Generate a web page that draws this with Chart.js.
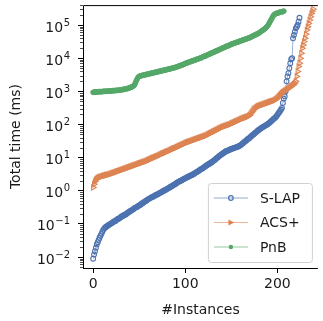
<!DOCTYPE html>
<html>
<head>
<meta charset="utf-8">
<script src="https://cdn.jsdelivr.net/npm/chart.js@4.4.0/dist/chart.umd.min.js"></script>
<style>
html, body { margin: 0; padding: 0; background: #fff; }
canvas { display: block; }
</style>
</head>
<body>
<canvas id="myChart" width="323" height="321"></canvas>
<script>
"use strict";
// sorted run times (ms) per instance
var slap = [
    0.0089, 0.012, 0.015, 0.019, 0.024, 0.028, 0.033, 0.038, 0.044, 0.05,
    0.058, 0.066, 0.072, 0.078, 0.081, 0.085, 0.089, 0.093, 0.098, 0.10,
    0.105, 0.11, 0.115, 0.12, 0.12, 0.13, 0.135, 0.14, 0.145, 0.15,
    0.16, 0.17, 0.17, 0.18, 0.19, 0.19, 0.20, 0.21, 0.22, 0.23,
    0.24, 0.25, 0.26, 0.27, 0.28, 0.30, 0.31, 0.32, 0.33, 0.35,
    0.36, 0.37, 0.39, 0.41, 0.43, 0.45, 0.47, 0.49, 0.51, 0.54,
    0.56, 0.58, 0.60, 0.62, 0.65, 0.66, 0.69, 0.71, 0.74, 0.76,
    0.79, 0.81, 0.85, 0.87, 0.91, 0.93, 0.98, 1.0, 1.05, 1.07,
    1.12, 1.17, 1.2, 1.26, 1.32, 1.35, 1.41, 1.48, 1.51, 1.58,
    1.66, 1.74, 1.82, 1.86, 1.95, 2.0, 2.04, 2.14, 2.24, 2.29,
    2.4, 2.45, 2.57, 2.63, 2.69, 2.82, 2.88, 2.95, 3.09, 3.16,
    3.31, 3.47, 3.63, 3.72, 3.89, 4.07, 4.27, 4.47, 4.57, 4.79,
    5.01, 5.25, 5.5, 5.75, 6.03, 6.31, 6.46, 6.76, 7.08, 7.24,
    7.76, 8.13, 8.51, 9.12, 9.55, 10, 10.7, 11.2, 11.7, 12.3,
    12.9, 13.5, 14.1, 14.8, 15.5, 15.8, 16.2, 16.6, 17, 17.8,
    18.2, 18.6, 19.1, 19.5, 20, 20.4, 20.9, 21.4, 21.9, 22.9,
    23.4, 25.1, 26.3, 27.5, 29.5, 30.9, 32.4, 34.7, 36.3, 38,
    39.8, 42.7, 44.7, 47.9, 50.1, 52.5, 56.2, 58.9, 63.1, 66.1,
    69.2, 72.4, 75.9, 79.4, 83.2, 85.1, 89.1, 93.3, 95.5, 100,
    105, 110, 117, 123, 132, 138, 148, 155, 166, 178,
    195, 214, 234, 257, 282, 316, 447, 603, 708, 1000,
    2000, 2820, 3550, 5010, 7080, 9330, 10000, 39800, 50100, 63100,
    79400, 89100, 100000, 126000, 166000
];
var acs = [
    1.26, 1.58, 1.9, 2.14, 2.29, 2.4, 2.51, 2.57, 2.63, 2.69,
    2.75, 2.82, 2.88, 2.88, 2.95, 3.02, 3.09, 3.09, 3.16, 3.24,
    3.31, 3.39, 3.47, 3.55, 3.63, 3.72, 3.8, 3.89, 3.98, 4.07,
    4.17, 4.27, 4.37, 4.47, 4.57, 4.68, 4.79, 4.9, 5.01, 5.13,
    5.25, 5.37, 5.5, 5.62, 5.75, 5.89, 6.03, 6.17, 6.31, 6.46,
    6.61, 6.76, 6.92, 7.08, 7.24, 7.41, 7.59, 7.76, 7.94, 8.13,
    8.51, 8.7, 8.9, 9.3, 9.5, 9.8, 10, 10.2, 10.7, 11,
    11.2, 11.5, 12, 12.3, 12.6, 13.2, 13.5, 13.8, 14.1, 14.8,
    15.1, 15.5, 15.8, 16.6, 17, 17.4, 18.2, 18.6, 19.1, 19.5,
    20, 20.9, 21.4, 21.9, 22.9, 23.4, 24, 25.1, 25.7, 26.3,
    27.5, 28.2, 28.8, 29.5, 30.2, 30.9, 31.6, 32.4, 33.1, 33.9,
    34.7, 35.5, 36.3, 37.2, 38, 38.9, 39.8, 40.7, 41.7, 42.7,
    43.7, 44.7, 45.7, 46.8, 49, 50.1, 52.5, 53.7, 56.2, 57.5,
    60.3, 61.7, 63.1, 66.1, 67.6, 70.8, 72.4, 75.9, 77.6, 79.4,
    83.2, 85.1, 87.1, 89.1, 91.2, 93.3, 95.5, 97.7, 100, 102,
    107, 110, 112, 115, 120, 123, 126, 129, 135, 138,
    141, 148, 151, 155, 158, 162, 166, 170, 174, 182,
    191, 209, 229, 251, 275, 295, 309, 324, 339, 355,
    363, 372, 380, 389, 398, 407, 417, 427, 437, 447,
    457, 468, 479, 490, 501, 513, 525, 537, 562, 589,
    631, 676, 724, 776, 832, 891, 933, 977, 1020, 1070,
    1120, 1170, 1230, 1290, 1350, 1410, 1480, 1550, 1660, 1780,
    2000, 2820, 3980, 5620, 7080, 10000, 14100, 20000, 25100, 31600,
    39800, 52500, 70800, 89100, 112000, 141000, 178000, 224000, 263000, 302000
];
var pnb = [
    933, 933, 955, 955, 955, 955, 977, 977, 977, 977,
    977, 1000, 1000, 1000, 1000, 1000, 1020, 1020, 1020, 1020,
    1020, 1050, 1050, 1050, 1050, 1070, 1070, 1070, 1070, 1100,
    1100, 1120, 1120, 1150, 1150, 1170, 1200, 1200, 1230, 1260,
    1290, 1320, 1350, 1410, 1480, 1580, 1820, 2140, 2400, 2690,
    2820, 2880, 2950, 3020, 3020, 3090, 3160, 3160, 3240, 3310,
    3310, 3390, 3470, 3470, 3550, 3630, 3630, 3720, 3800, 3800,
    3890, 3980, 3980, 4070, 4170, 4170, 4270, 4370, 4370, 4470,
    4570, 4570, 4680, 4790, 4790, 4900, 5010, 5130, 5130, 5250,
    5370, 5500, 5620, 5750, 5890, 6030, 6170, 6310, 6460, 6610,
    6920, 7080, 7240, 7410, 7590, 7760, 7940, 8130, 8320, 8510,
    8710, 8910, 9120, 9330, 9550, 9770, 10000, 10200, 10500, 11000,
    11200, 11500, 11700, 12000, 12600, 12900, 13200, 13500, 14100, 14500,
    14800, 15100, 15800, 16200, 16600, 17000, 17800, 18200, 18600, 19100,
    20000, 20400, 20900, 21400, 22400, 22900, 23400, 24000, 24500, 25700,
    26300, 26900, 27500, 28200, 28800, 29500, 30200, 30900, 31600, 32400,
    33100, 33900, 34700, 35500, 36300, 37200, 38000, 38900, 39800, 40700,
    41700, 42700, 44700, 45700, 47900, 49000, 50100, 52500, 53700, 55000,
    57500, 60300, 63100, 66100, 69200, 72400, 75900, 79400, 85100, 91200,
    100000, 112000, 126000, 141000, 158000, 178000, 200000, 209000, 219000, 224000,
    229000, 234000, 240000, 245000, 251000, 251000, 257000, 263000
];
var seriesNames = ["S-LAP", "ACS+", "PnB"];
var xTicks = [0, 100, 200];
var yExponents = [-2, -1, 0, 1, 2, 3, 4, 5];

var blue = "#4c72b0", orange = "#dd8452", green = "#55a868";
var font = { family: "DejaVu Sans", size: 14 };

function points(arr) {
    return arr.map(function (v, i) { return { x: i, y: v }; });
}

// frame, y tick labels with superscripts, minor log ticks, legend box inside the axes
var extras = {
    id: "extras",
    afterDraw: function (chart) {
        var c = chart.ctx, a = chart.chartArea, y = chart.scales.y;
        c.save();
        c.strokeStyle = "#000";
        c.lineWidth = 1;
        c.beginPath();
        c.moveTo(a.left + 0.5, a.bottom + 0.5);
        c.lineTo(a.left + 0.5, a.top + 0.5);
        c.lineTo(a.right, a.top + 0.5);
        c.moveTo(a.left, a.bottom + 0.5);
        c.lineTo(a.right, a.bottom + 0.5);
        c.stroke();
        c.lineWidth = 0.7;
        c.beginPath();
        for (var e = -3; e <= 5; e++) {
            for (var m = 2; m <= 9; m++) {
                var v = m * Math.pow(10, e);
                if (v < y.min || v > y.max) continue;
                var py = Math.round(y.getPixelForValue(v)) + 0.5;
                c.moveTo(a.left, py);
                c.lineTo(a.left - 3, py);
            }
        }
        c.stroke();

        // y labels: 10 with a raised exponent, right aligned
        c.fillStyle = "#1a1a1a";
        c.textAlign = "right";
        c.textBaseline = "alphabetic";
        var labelRight = a.left - 13;
        yExponents.forEach(function (ex) {
            var ty = y.getPixelForValue(Math.pow(10, ex));
            var expText = ex < 0 ? "\u2212" + (-ex) : String(ex);
            c.font = "10px 'DejaVu Sans'";
            var ew = c.measureText(expText).width;
            c.fillText(expText, labelRight, ty + 0.5);
            c.font = "14px 'DejaVu Sans'";
            c.fillText("10", labelRight - ew - 0.5, ty + 6.5);
        });

        // legend
        var bw = 104, bh = 79;
        var bx = a.right - 6 - bw, by = a.bottom - 6 - bh;
        c.textAlign = "left";
        c.fillStyle = "rgba(255,255,255,0.85)";
        c.strokeStyle = "#d0d0d0";
        c.lineWidth = 1;
        c.beginPath();
        c.roundRect(bx + 0.5, by + 0.5, bw, bh, 3);
        c.fill();
        c.stroke();
        var cols = [blue, orange, green];
        var lineCols = ["rgba(76,114,176,0.6)", "rgba(221,132,82,0.6)", "rgba(85,168,104,0.6)"];
        c.font = "14px 'DejaVu Sans'";
        c.textBaseline = "middle";
        for (var k = 0; k < 3; k++) {
            var ry = by + 15 + k * 24.5;
            c.strokeStyle = lineCols[k];
            c.lineWidth = 1.2;
            c.beginPath();
            c.moveTo(bx + 6, ry);
            c.lineTo(bx + 40, ry);
            c.stroke();
            var mx = bx + 23;
            c.strokeStyle = cols[k];
            c.fillStyle = cols[k];
            c.lineWidth = 1.2;
            c.beginPath();
            if (k === 0) {
                c.arc(mx, ry, 2.3, 0, Math.PI * 2);
                c.stroke();
            } else if (k === 1) {
                c.moveTo(mx + 3.5, ry);
                c.lineTo(mx - 2.5, ry - 3);
                c.lineTo(mx - 2.5, ry + 3);
                c.closePath();
                c.fill();
            } else {
                c.arc(mx, ry, 2.2, 0, Math.PI * 2);
                c.fill();
            }
            c.fillStyle = "#1a1a1a";
            c.fillText(seriesNames[k], bx + 52, ry + 1);
        }
        c.restore();
    }
};

var ctx = document.getElementById("myChart").getContext("2d");
var chart = new Chart(ctx, {
    type: "line",
    data: {
        datasets: [{
            label: seriesNames[0],
            data: points(slap),
            borderColor: "rgba(76,114,176,0.55)",
            borderWidth: 1,
            pointStyle: "circle",
            pointRadius: 2.4,
            pointBorderWidth: 1.1,
            pointBorderColor: blue,
            pointBackgroundColor: "rgba(255,255,255,0)",
            order: 3
        }, {
            label: seriesNames[1],
            data: points(acs),
            borderColor: "rgba(221,132,82,0.55)",
            borderWidth: 1,
            pointStyle: "triangle",
            pointRotation: 90,
            pointRadius: 3,
            pointBorderWidth: 1.1,
            pointBorderColor: orange,
            pointBackgroundColor: "rgba(255,255,255,0)",
            order: 2
        }, {
            label: seriesNames[2],
            data: points(pnb),
            borderColor: "rgba(85,168,104,0.55)",
            borderWidth: 1,
            pointStyle: "circle",
            pointRadius: 2.4,
            pointBorderWidth: 1,
            pointBorderColor: green,
            pointBackgroundColor: green,
            order: 1
        }]
    },
    options: {
        responsive: false,
        animation: false,
        devicePixelRatio: 1,
        layout: { padding: { top: 5, right: 0, left: 0, bottom: 0 } },
        plugins: { legend: { display: false }, tooltip: { enabled: false } },
        scales: {
            x: {
                type: "linear",
                min: -11,
                max: 244,
                afterFit: function (s) { s.height = 53; },
                afterBuildTicks: function (s) { s.ticks = xTicks.map(function (v) { return { value: v }; }); },
                ticks: { font: font, color: "#1a1a1a", padding: 3, maxRotation: 0, autoSkip: false },
                grid: { drawOnChartArea: false, tickLength: 5, tickColor: "#000", tickWidth: 1 },
                border: { display: false },
                title: { display: true, text: "#Instances", font: font, color: "#1a1a1a", padding: { top: 0, bottom: 2 } }
            },
            y: {
                type: "logarithmic",
                min: 4.66e-3,
                max: 4.0e5,
                afterFit: function (s) { s.width = 83; },
                afterBuildTicks: function (s) { s.ticks = yExponents.map(function (e) { return { value: Math.pow(10, e), major: true }; }); },
                ticks: { display: false },
                grid: { drawOnChartArea: false, tickLength: 5, tickColor: "#000", tickWidth: 1 },
                border: { display: false },
                title: { display: true, text: "Total time (ms)", font: font, color: "#1a1a1a", padding: { top: 8, bottom: 0 } }
            }
        }
    },
    plugins: [extras]
});
</script>
</body>
</html>
